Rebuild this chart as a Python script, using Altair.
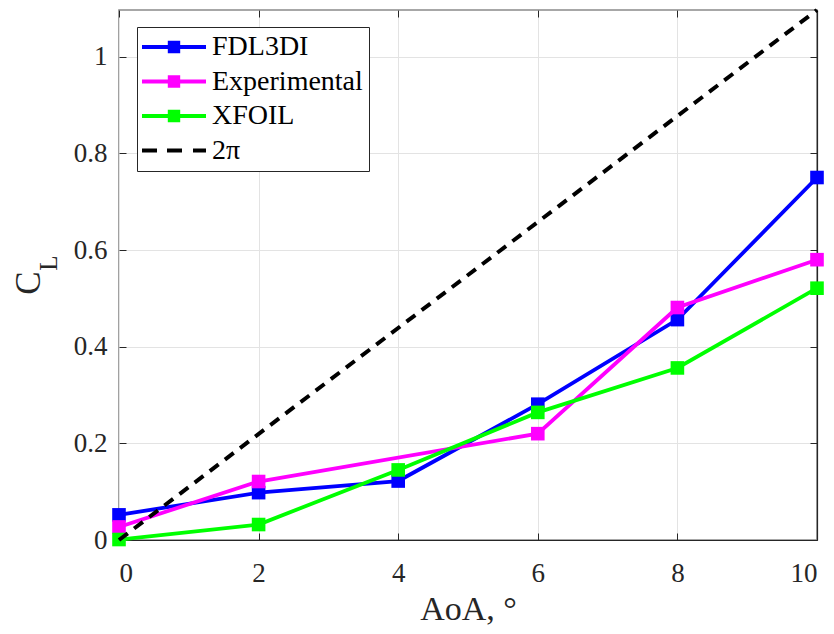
import altair as alt
import pandas as pd

aoa = [0, 2, 4, 6, 8, 10]
fdl3di = [0.052, 0.098, 0.122, 0.281, 0.456, 0.750]
exp_aoa = [0, 2, 6, 8, 10]
experimental = [0.027, 0.121, 0.220, 0.481, 0.580]
xfoil = [0.001, 0.032, 0.145, 0.264, 0.356, 0.521]
two_pi_aoa = [0, 10]
two_pi = [0.0, 1.0966]

series = ["FDL3DI", "Experimental", "XFOIL", "2\u03c0"]
colors = ["#0000ff", "#ff00ff", "#00ff00", "#000000"]
x_ticks = [0, 2, 4, 6, 8, 10]
y_ticks = [0, 0.2, 0.4, 0.6, 0.8, 1.0]

rows = []
for a, v in zip(aoa, fdl3di):
    rows.append({"aoa": a, "cl": v, "series": "FDL3DI"})
for a, v in zip(exp_aoa, experimental):
    rows.append({"aoa": a, "cl": v, "series": "Experimental"})
for a, v in zip(aoa, xfoil):
    rows.append({"aoa": a, "cl": v, "series": "XFOIL"})
df = pd.DataFrame(rows)
df_pi = pd.DataFrame({"aoa": two_pi_aoa, "cl": two_pi, "series": "2\u03c0"})
# legend-only layer: points placed outside the domain and clipped away
df_leg = pd.DataFrame({"series": series, "aoa": [-5] * 4, "cl": [-5] * 4})

FONT = "Liberation Serif"
DARK = "#262626"
GRID = "#e3e3e3"
TICK = 7

xs = alt.Scale(domain=[0, 10], nice=False)
ys = alt.Scale(domain=[0, 1.0966], nice=False)
cs = alt.Scale(domain=series, range=colors)

line_sq = "M-3.2,-0.2H3.2V0.2H-3.2Z M-0.62,-0.62H0.62V0.62H-0.62Z"
dashed = "M-3.2,-0.2H-1.7V0.2H-3.2Z M-0.7,-0.2H0.8V0.2H-0.7Z M1.9,-0.2H3.2V0.2H1.9Z"
shs = alt.Scale(domain=series, range=[line_sq, line_sq, line_sq, dashed])

x_bottom = alt.Axis(
    values=x_ticks, title="AoA, \u00b0", grid=True, gridColor=GRID,
    ticks=False, labelPadding=20, labelFontSize=27, labelFont=FONT, labelColor=DARK,
    titleFont=FONT, titleFontSize=34, titleFontWeight="normal", titleColor=DARK,
    titleBaseline="alphabetic", titleY=79, domainColor=DARK, domainWidth=1.2,
)
y_left = alt.Axis(
    values=y_ticks, format=".1~f", title=None, grid=True, gridColor=GRID,
    ticks=False, labelPadding=12, labelFontSize=27, labelFont=FONT,
    labelColor=DARK, domain=False,
)


def tick_axis(orient, vals):
    return alt.Axis(orient=orient, values=vals, labels=False, ticks=True, tickSize=TICK,
                    tickColor=DARK, tickWidth=1, offset=-TICK, domain=False, grid=False,
                    title=None)


y_right_dom = alt.Axis(orient="right", values=y_ticks, labels=False, ticks=False,
                       title=None, grid=False, domainColor=DARK, domainWidth=1.2)

leg_kw = dict(
    title=None, orient="none", legendX=18, legendY=17,
    symbolOpacity=1, symbolSize=400, symbolStrokeWidth=0,
    symbolOffset=17, labelOffset=24, padding=6, rowPadding=6.5,
    labelFont=FONT, labelFontSize=28, labelColor="#000000",
    strokeColor=DARK, fillColor="#ffffff", cornerRadius=0,
)

layers = []
first = True
for s, col in zip(series[:3], colors[:3]):
    sub = alt.Chart(df).transform_filter(alt.datum.series == s)
    if first:
        xa, ya = x_bottom, y_left
        first = False
    else:
        xa, ya = None, None
    layers.append(sub.mark_line(strokeWidth=3.8, color=col).encode(
        x=alt.X("aoa:Q", scale=xs, axis=xa),
        y=alt.Y("cl:Q", scale=ys, axis=ya),
        order="aoa:Q",
    ))
    layers.append(sub.mark_point(shape="square", size=185, filled=True, opacity=1,
                                 color=col).encode(
        x=alt.X("aoa:Q", scale=xs, axis=None),
        y=alt.Y("cl:Q", scale=ys, axis=None),
    ))

layers.append(alt.Chart(df_pi).mark_line(strokeWidth=4, strokeDash=[11, 8],
                                         color="#000000").encode(
    x=alt.X("aoa:Q", scale=xs, axis=None),
    y=alt.Y("cl:Q", scale=ys, axis=None),
))

# frame / inward tick layers (invisible marks, axes only)
layers.append(alt.Chart(df_pi).mark_line(opacity=0).encode(
    x=alt.X("aoa:Q", scale=xs, axis=tick_axis("bottom", x_ticks)),
    y=alt.Y("cl:Q", scale=ys, axis=tick_axis("left", y_ticks)),
))
layers.append(alt.Chart(df_pi).mark_line(opacity=0).encode(
    x=alt.X("aoa:Q", scale=xs, axis=tick_axis("top", x_ticks)),
    y=alt.Y("cl:Q", scale=ys, axis=tick_axis("right", y_ticks)),
))
layers.append(alt.Chart(df_pi).mark_line(opacity=0).encode(
    x=alt.X("aoa:Q", scale=xs, axis=None),
    y=alt.Y("cl:Q", scale=ys, axis=y_right_dom),
))

layers.append(alt.Chart(df_leg).mark_point(filled=True, clip=True).encode(
    x=alt.X("aoa:Q", scale=xs, axis=None),
    y=alt.Y("cl:Q", scale=ys, axis=None),
    color=alt.Color("series:N", scale=cs, legend=alt.Legend(**leg_kw)),
    shape=alt.Shape("series:N", scale=shs, legend=alt.Legend(**leg_kw)),
))

layers.append(alt.Chart(pd.DataFrame({"t": ["C"]})).mark_text(
    font=FONT, fontSize=35, angle=270, align="center", baseline="middle", color=DARK
).encode(text="t:N", x=alt.value(-90), y=alt.value(273)))
layers.append(alt.Chart(pd.DataFrame({"t": ["L"]})).mark_text(
    font=FONT, fontSize=25, angle=270, align="center", baseline="middle", color=DARK
).encode(text="t:N", x=alt.value(-70), y=alt.value(253)))

chart = alt.layer(*layers).resolve_axis(
    x="independent", y="independent"
).properties(
    width=698, height=530,
    autosize=alt.AutoSizeParams(type="none"),
    padding={"left": 111, "top": 2, "right": 9, "bottom": 86},
).configure_view(
    stroke="#8a8a8a", strokeWidth=1.6
).configure_legend(
    labelFont=FONT, labelFontSize=28, labelColor="#000000"
)

chart.save("out.html", embed_options={"renderer": "svg", "actions": False})
